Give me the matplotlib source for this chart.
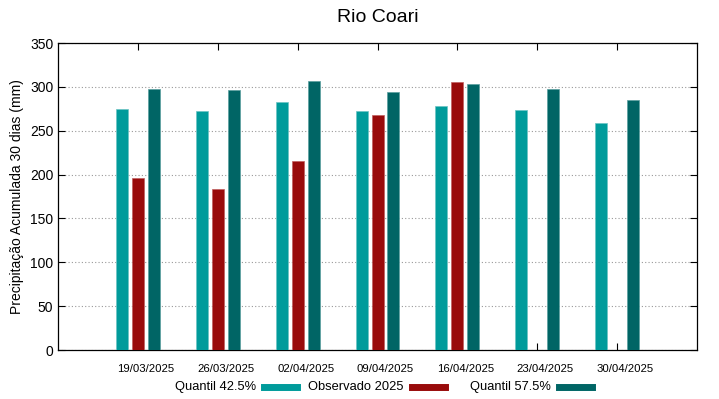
import numpy as np
import matplotlib
matplotlib.use("Agg")
import matplotlib.pyplot as plt
from matplotlib.lines import Line2D

plt.rcParams['font.family'] = ['Liberation Sans', 'DejaVu Sans']

datas = ['19/03/2025', '26/03/2025', '02/04/2025', '09/04/2025',
         '16/04/2025', '23/04/2025', '30/04/2025']
q425 = [275, 272, 283, 272, 278, 274, 259]
obs2025 = [196, 184, 215, 268, 305, np.nan, np.nan]
q575 = [298, 296, 307, 294, 303, 297, 285]
nomes = ['Quantil 42.5%', 'Observado 2025', 'Quantil 57.5%']

c1 = '#009b9b'
c2 = '#990b0b'
c3 = '#006565'

fig = plt.figure(figsize=(7.19, 3.99), dpi=100)
ax = fig.add_axes([0.0807, 0.1228, 0.8887, 0.7694])

x = np.arange(len(datas))
w = 0.15
ax.bar(x - 0.2, q425, w, color=c1, edgecolor='#6cc4c4', linewidth=0.5, zorder=3)
ax.bar(x, obs2025, w, color=c2, edgecolor='#c06060', linewidth=0.5, zorder=3)
ax.bar(x + 0.2, q575, w, color=c3, edgecolor='#5a9f9f', linewidth=0.5, zorder=3)

ax.set_xlim(-1, 7)
ax.set_ylim(0, 350)
ax.set_yticks(np.arange(0, 351, 50))
# ticks at group centre, labels shifted slightly right (gnuplot-like)
ax.set_xticks(x)
ax.set_xticklabels([])
ax.set_xticks(x + 0.1, minor=True)
ax.set_xticklabels(datas, minor=True, fontsize=8.2)
ax.tick_params(axis='x', which='minor', length=0, pad=10)
ax.tick_params(axis='y', labelsize=10, direction='in', right=True, length=5)
ax.tick_params(axis='x', which='major', direction='in', top=True, length=5)
ax.grid(axis='y', linestyle=(0, (1, 2)), color='#999999', linewidth=0.8, zorder=0)
for s in ax.spines.values():
    s.set_linewidth(0.9)

ax.set_ylabel('Precipitação Acumulada 30 dias (mm)', fontsize=10, labelpad=4)
fig.text(378 / 719, 1 - 17 / 399, 'Rio Coari', ha='center', va='center', fontsize=14)

# legend: text right-aligned before each sample, equal-width columns
yl = 1 - 387 / 399
for i, (nome, cor) in enumerate(zip(nomes, [c1, c2, c3])):
    x0 = (264 + 147.5 * i) / 719
    x1 = x0 + 33 / 719
    fig.add_artist(Line2D([x0, x1], [yl, yl], color=cor, lw=5,
                          transform=fig.transFigure))
    fig.text(x0 - 8 / 719, yl, nome, ha='right', va='center', fontsize=9.3)

fig.savefig('out.png', dpi=100)
